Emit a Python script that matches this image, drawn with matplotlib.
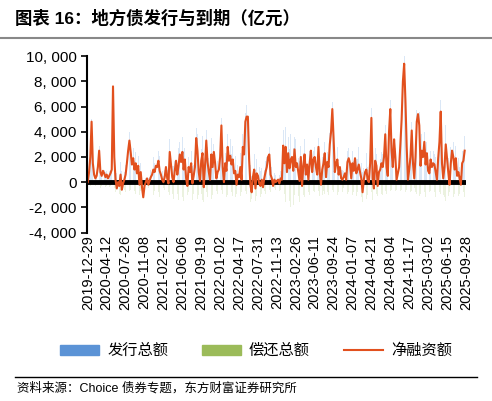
import numpy as np
import pandas as pd
import matplotlib
matplotlib.use('Agg')
import matplotlib.pyplot as plt
from matplotlib.lines import Line2D
from matplotlib.patches import Patch

plt.rcParams['font.family'] = ['Liberation Sans', 'Noto Sans CJK SC', 'DejaVu Sans']

# weekly net financing (亿元)
net = [0, 800, 2000, 4800, 1500, 600, 300, 500, 1200, 2500, 800, 500, 900, 700, 400, 600, 300, 500, 700, 1000,
       7600, 2000, 200, -500, 0, -300, 600, -600, -100, 200, 600, 1500, 2500, 3300, 2400, 1400, 1900, 1000, 1500, 700,
       1300, -200, 800, -400, -1200, -300, 0, 300, -200, 100, 400, 600, 1000, 800, 1300, 1200, 1700, 900, 600, 200,
       0, 400, 1200, 300, -100, 2400, 1400, 400, 0, 900, 1700, 600, 1300, 2200, 1600, 2400, 1000, 1800, 300, -300,
       1200, 800, 1500, -100, 500, 1200, 3500, 2500, 800, 100, 1700, 2300, -400, 1300, 3300, 1600, 800, 200, 2200, 1200,
       2400, 1500, 300, 800, 1000, 2000, 4500, 1200, 0, 1500, 900, 2800, 1700, 2100, 1400, 1800, 700, 900, -200, 600,
       400, 1200, 200, 2800, 2200, 4800, 5200, 5200, 1800, -200, -800, 400, 1000, -500, 700, 500, -100, -300, 200, -400,
       300, 800, 1200, 2000, 2200, 600, 300, -300, 200, 0, 100, 200, -100, 300, 200, 2900, 1500, 2800, 800, 2300,
       1100, 1800, 2000, 900, 2600, 1200, 1500, 800, 100, 2000, -300, 1300, 2200, 600, 1400, 200, 1500, 2500, 800, 1800,
       2000, 1200, 600, 2800, 800, -200, 1000, 1500, 2300, 400, 1600, 1200, 3000, 4000, 5800, 3500, 800, 1500, 1800, 600,
       1200, 300, 200, 400, 700, 200, 1600, 1900, 1500, 300, 1500, 900, 1900, 700, 1000, 1400, 800, 300, -800, 200,
       800, 1000, 200, 0, 1500, 5100, 300, -500, 1700, 1300, -300, 800, 1000, 1500, 1200, 2000, 3800, 1200, 500, 4000,
       5800, 2500, 1200, 3400, 2000, 200, 700, 1200, 3000, 5000, 8000, 9400, 6500, 2800, 200, 1000, 2000, 4100, 1500, 300,
       2000, 4800, 5400, 4500, 1300, 2500, 2000, 3200, 1400, 2300, 900, 700, 1800, 1200, 1500, 1400, 800, 200, 1900, 3200,
       5600, 1500, 300, 1200, 3000, 1900, 800, -200, 1500, 2500, 2000, 1000, 1900, 500, 800, 300, -200, 1500, 1700, 2500]

# weekly repayment (亿元)
repay = [100, 200, 300, 200, 300, 400, 300, 200, 300, 400, 500, 300, 200, 300, 400, 300, 500, 400, 300, 200,
         300, 500, 800, 1200, 600, 900, 1000, 1500, 700, 600, 800, 1000, 900, 700, 600, 1200, 800, 700, 900, 600,
         800, 1000, 700, 1100, 900, 500, 300, 400, 500, 300, 600, 800, 1000, 700, 900, 1100, 800, 1200, 900, 700,
         500, 600, 900, 700, 800, 1000, 700, 900, 1300, 800, 1100, 900, 1400, 1000, 800, 1200, 1500, 900, 1100, 1000,
         800, 1200, 1000, 1400, 900, 1100, 800, 1300, 1000, 1200, 900, 1400, 1600, 1000, 800, 1200, 1100, 900, 1300, 1000,
         600, 800, 700, 900, 1000, 800, 600, 900, 1100, 800, 1200, 1000, 900, 1300, 800, 1100, 1000, 1200, 900, 800,
         900, 1100, 800, 1000, 1200, 700, 900, 1400, 1800, 1600, 1300, 1000, 1200, 1500, 1100, 1000, 1300, 1200, 900, 1100,
         700, 900, 800, 1000, 600, 800, 900, 700, 500, 600, 400, 500, 700, 600, 800, 1200, 900, 1600, 1000, 1300,
         1500, 2000, 1200, 1800, 1000, 2200, 1400, 1100, 1600, 900, 1300, 1000, 1200, 900, 1100, 800, 1000, 1200, 900, 700,
         800, 1000, 900, 700, 1100, 800, 1000, 700, 900, 1200, 800, 1000, 900, 700, 600, 800, 900, 700, 1000, 800,
         600, 700, 800, 500, 600, 700, 900, 800, 600, 700, 1000, 800, 900, 1100, 800, 1400, 1000, 1200, 1600, 900,
         1100, 1300, 1000, 900, 1200, 800, 1400, 1600, 1000, 900, 1100, 700, 800, 900, 1000, 800, 700, 900, 600, 800,
         700, 600, 800, 500, 700, 600, 800, 900, 700, 600, 500, 700, 800, 600, 700, 900, 800, 700, 600, 500,
         800, 900, 700, 1100, 900, 1300, 1000, 800, 1200, 900, 1000, 800, 700, 900, 1000, 800, 1200, 900, 1000, 800,
         900, 1400, 1000, 1200, 1500, 900, 1100, 800, 1300, 1000, 1200, 900, 1000, 1400, 1100, 900, 1300, 1000, 800, 1200]

tick_labels = ['2019-12-29', '2020-04-12', '2020-07-26', '2020-11-08', '2021-02-21', '2021-06-06',
               '2021-09-19', '2022-01-02', '2022-04-17', '2022-07-31', '2022-11-13', '2023-02-26',
               '2023-06-11', '2023-09-24', '2024-01-07', '2024-04-21', '2024-08-04', '2024-11-17',
               '2025-03-02', '2025-06-15', '2025-09-28']

dates = pd.date_range('2019-12-29', periods=len(net), freq='7D')
issue = np.array(net) + np.array(repay)
repay_neg = -np.array(repay)

fig = plt.figure(figsize=(4.92, 4.01), dpi=100)
ax = fig.add_axes([0.177, 0.42, 0.77, 0.44])

ax.bar(dates, issue, width=4, color='#bcd5f0', alpha=0.55, linewidth=0)
ax.bar(dates, repay_neg, width=3, color='#c8dca6', alpha=0.35, linewidth=0)
ax.plot(dates, net, color='#e2501e', lw=1.5)
ax.axhline(0, color='black', lw=3.5, zorder=1.5)

ax.set_ylim(-4000, 10000)
ax.set_yticks(range(-4000, 10001, 2000))
ax.set_yticklabels([f'{v:,}'.replace(',', ', ') for v in range(-4000, 10001, 2000)], fontsize=11)
ax.set_xlim(dates[0] - pd.Timedelta(days=4), dates[-1] + pd.Timedelta(days=4))
ax.set_xticks(pd.to_datetime(tick_labels))
ax.set_xticklabels(tick_labels, rotation=90, fontsize=10.5)
ax.tick_params(axis='x', length=0, pad=2)
ax.tick_params(axis='y', length=4, width=1.2)
for s in ['top', 'right', 'bottom']:
    ax.spines[s].set_visible(False)
ax.spines['left'].set_linewidth(1.5)

fig.text(0.03, 0.955, '图表 16：地方债发行与到期（亿元）', fontsize=12.5, fontweight='bold', va='center')
fig.add_artist(Line2D([0.0, 1.0], [0.905, 0.905], color='#888888', lw=1.5))
fig.add_artist(Line2D([0.03, 0.97], [0.06, 0.06], color='black', lw=1))
fig.text(0.035, 0.032, '资料来源：Choice 债券专题，东方财富证券研究所', fontsize=9, va='center')

handles = [Patch(color='#5b93d6'), Patch(color='#9bbb59'), Line2D([], [], color='#e2501e', lw=1.5)]
fig.legend(handles, ['发行总额', '偿还总额', '净融资额'], loc='center', bbox_to_anchor=(0.52, 0.125),
           ncol=3, frameon=False, fontsize=11, handlelength=2.6, handleheight=0.6,
           handletextpad=0.5, columnspacing=2.2)

fig.savefig('out.png', dpi=100)
